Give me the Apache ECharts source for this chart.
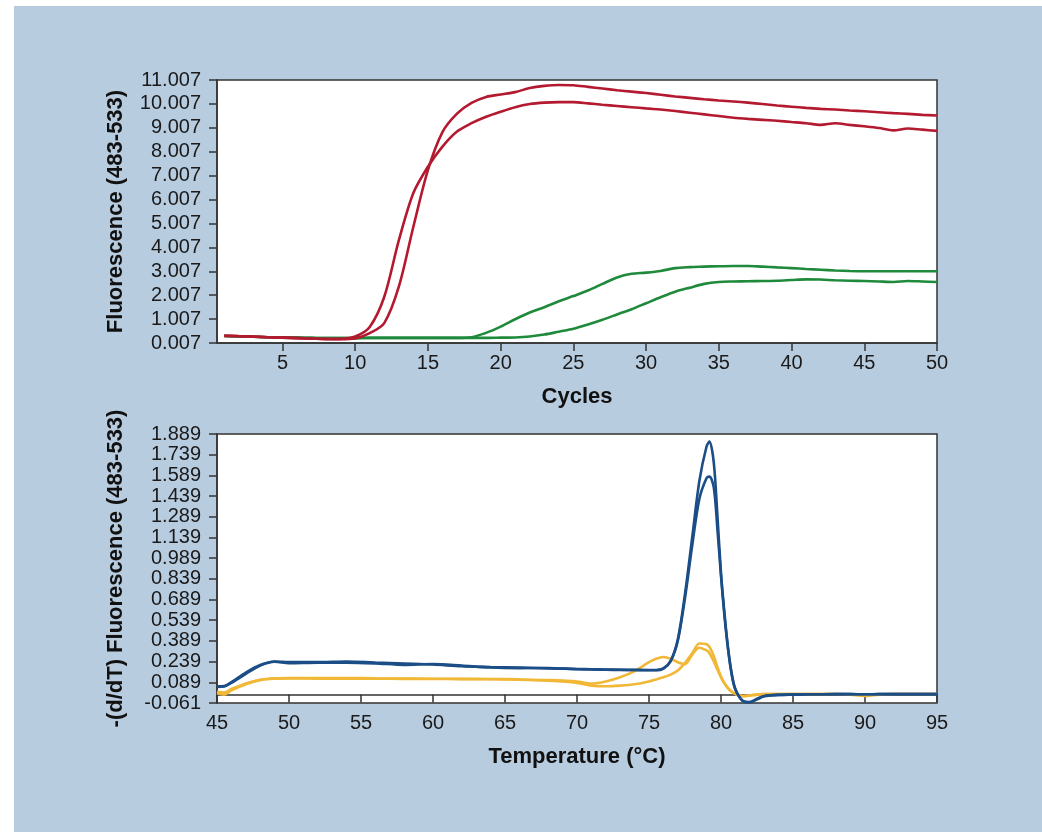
<!DOCTYPE html>
<html>
<head>
<meta charset="utf-8">
<script src="https://cdn.jsdelivr.net/npm/echarts@6/dist/echarts.min.js"></script>
<style>
  html, body { margin: 0; padding: 0; background: #fff; }
  #bg { position: absolute; left: 14px; top: 6px; right: 0; bottom: 0; background: #b8cce0; }
  #main { position: absolute; left: 0; top: 0; width: 1042px; height: 832px; }
</style>
</head>
<body>
<div id="bg"></div>
<div id="main"></div>
<script>
// amplification curves (cycles 1..50)
const cycles = [1,2,3,4,5,6,7,8,9,10,11,12,13,14,15,16,17,18,19,20,21,22,23,24,25,26,27,28,29,30,31,32,33,34,35,36,37,38,39,40,41,42,43,44,45,46,47,48,49,50];
const redEarly = [0.32,0.30,0.28,0.25,0.23,0.21,0.19,0.17,0.18,0.28,0.68,1.94,4.3,6.28,7.38,8.22,8.85,9.2,9.47,9.68,9.87,10.0,10.06,10.08,10.08,10.03,9.97,9.92,9.87,9.82,9.77,9.71,9.64,9.57,9.5,9.43,9.38,9.34,9.3,9.25,9.2,9.13,9.2,9.13,9.07,9.0,8.9,8.98,8.93,8.88];
const redLate = [0.30,0.29,0.27,0.25,0.23,0.21,0.19,0.18,0.17,0.2,0.42,0.84,2.36,4.87,7.24,8.83,9.6,10.05,10.3,10.4,10.5,10.67,10.76,10.8,10.79,10.72,10.65,10.58,10.52,10.46,10.39,10.32,10.26,10.2,10.15,10.11,10.06,10.0,9.94,9.89,9.84,9.8,9.77,9.73,9.7,9.66,9.62,9.59,9.55,9.52];
const greenEarly = [0.3,0.28,0.27,0.25,0.24,0.23,0.22,0.21,0.21,0.21,0.22,0.22,0.22,0.22,0.22,0.22,0.22,0.25,0.43,0.69,1.0,1.28,1.5,1.75,1.97,2.2,2.48,2.75,2.9,2.95,3.02,3.14,3.18,3.2,3.22,3.23,3.23,3.2,3.17,3.14,3.1,3.07,3.04,3.02,3.01,3.01,3.01,3.01,3.01,3.01];
const greenLate = [0.3,0.28,0.27,0.25,0.24,0.23,0.22,0.21,0.21,0.21,0.22,0.22,0.22,0.22,0.22,0.22,0.22,0.22,0.22,0.23,0.24,0.28,0.36,0.48,0.6,0.78,0.98,1.2,1.42,1.67,1.92,2.15,2.32,2.48,2.56,2.58,2.59,2.6,2.61,2.64,2.67,2.66,2.63,2.61,2.6,2.58,2.56,2.6,2.58,2.56];

// melt curves
const temps = [45,45.5,46,47,48,49,50,52,54,56,58,60,62,64,66,68,70,71,72,73,74,75,75.5,76,76.5,77,77.5,78,78.5,79,79.2,79.5,79.75,80,80.25,80.5,80.75,81,81.5,82,82.5,83,84,86,88,89,90,91,92,95];
const blueHigh = [0.06,0.062,0.09,0.16,0.215,0.24,0.235,0.235,0.24,0.232,0.225,0.218,0.205,0.2,0.196,0.19,0.186,0.184,0.182,0.18,0.179,0.178,0.178,0.19,0.245,0.4,0.73,1.14,1.55,1.8,1.834,1.68,1.3,0.88,0.58,0.33,0.15,0.04,-0.045,-0.056,-0.035,-0.012,-0.002,0.002,0.003,0.003,0.002,0.003,0.003,0.003];
const blueLow = [0.055,0.058,0.085,0.15,0.21,0.238,0.228,0.232,0.232,0.226,0.215,0.222,0.21,0.196,0.192,0.193,0.184,0.182,0.18,0.179,0.178,0.176,0.176,0.188,0.24,0.39,0.7,1.08,1.42,1.57,1.58,1.5,1.2,0.86,0.56,0.32,0.14,0.035,-0.045,-0.054,-0.03,-0.01,-0.002,0.002,0.003,0.003,0.002,0.003,0.003,0.003];
const yellowBump = [0.02,0.015,0.04,0.08,0.107,0.118,0.12,0.12,0.12,0.118,0.116,0.115,0.114,0.113,0.11,0.105,0.095,0.08,0.095,0.125,0.17,0.235,0.26,0.272,0.26,0.235,0.22,0.29,0.34,0.32,0.3,0.24,0.18,0.125,0.08,0.045,0.02,0.005,-0.012,-0.008,0.0,0.003,0.004,0.004,0.004,0.0,-0.01,0.0,0.004,0.004];
const yellowPlain = [0.01,0.0,0.03,0.075,0.105,0.115,0.117,0.116,0.116,0.115,0.114,0.113,0.112,0.111,0.108,0.1,0.085,0.065,0.06,0.065,0.075,0.095,0.11,0.125,0.145,0.175,0.23,0.3,0.37,0.365,0.345,0.28,0.2,0.13,0.08,0.045,0.02,0.005,-0.01,-0.006,0.0,0.003,0.004,0.004,0.004,0.002,-0.006,0.002,0.004,0.004];

const yTicks1 = [0.007,1.007,2.007,3.007,4.007,5.007,6.007,7.007,8.007,9.007,10.007,11.007];
const yTicks2 = [-0.061,0.089,0.239,0.389,0.539,0.689,0.839,0.989,1.139,1.289,1.439,1.589,1.739,1.889];
const xTicks1 = [5,10,15,20,25,30,35,40,45,50];

const myChart = echarts.init(document.getElementById('main'));

const labelStyle = { color: '#1a1a1a', fontSize: 20, fontFamily: 'Liberation Sans, Arial, sans-serif' };
const nameStyle = { color: '#111', fontSize: 22, fontWeight: 'bold', fontFamily: 'Liberation Sans, Arial, sans-serif' };
const lineAx = { show: true, lineStyle: { color: '#333', width: 1.5 } };
const tickAx = { show: true, length: 8, lineStyle: { color: '#333', width: 1.5 } };

function pairs(xs, ys) {
  return xs.map(function (x, i) { return [x, ys[i]]; });
}

function line(name, xi, yi, xs, ys, color, z) {
  return {
    name: name,
    type: 'line',
    xAxisIndex: xi,
    yAxisIndex: yi,
    data: pairs(xs, ys),
    showSymbol: false,
    smooth: 0.3,
    z: z,
    lineStyle: { color: color, width: 2.6 },
    itemStyle: { color: color }
  };
}

const options = {
  animation: false,
  backgroundColor: 'transparent',
  grid: [
    { left: 217, top: 80, width: 720, height: 263, show: true, backgroundColor: '#fff', borderColor: '#333', borderWidth: 1.5 },
    { left: 217, top: 434, width: 720, height: 269, show: true, backgroundColor: '#fff', borderColor: '#333', borderWidth: 1.5 }
  ],
  xAxis: [
    {
      type: 'value', gridIndex: 0, min: 0.5, max: 50,
      name: 'Cycles', nameLocation: 'middle', nameGap: 43, nameTextStyle: nameStyle,
      axisLine: lineAx, axisTick: Object.assign({ customValues: xTicks1 }, tickAx),
      axisLabel: Object.assign({ customValues: xTicks1, margin: 10 }, labelStyle),
      splitLine: { show: false }
    },
    {
      type: 'value', gridIndex: 1, min: 45, max: 95, interval: 5,
      name: 'Temperature (°C)', nameLocation: 'middle', nameGap: 43, nameTextStyle: nameStyle,
      axisLine: lineAx, axisTick: tickAx,
      axisLabel: Object.assign({ margin: 10 }, labelStyle),
      splitLine: { show: false }
    }
  ],
  yAxis: [
    {
      type: 'value', gridIndex: 0, min: 0.007, max: 11.007,
      name: 'Fluorescence (483-533)', nameLocation: 'middle', nameGap: 90, nameTextStyle: nameStyle,
      axisLine: lineAx, axisTick: Object.assign({ customValues: yTicks1 }, tickAx),
      axisLabel: Object.assign({ customValues: yTicks1, margin: 16, formatter: function (v) { return v.toFixed(3); } }, labelStyle),
      splitLine: { show: false }
    },
    {
      type: 'value', gridIndex: 1, min: -0.061, max: 1.889,
      name: '-(d/dT) Fluorescence (483-533)', nameLocation: 'middle', nameGap: 90, nameTextStyle: nameStyle,
      axisLine: lineAx, axisTick: Object.assign({ customValues: yTicks2 }, tickAx),
      axisLabel: Object.assign({ customValues: yTicks2, margin: 16, formatter: function (v) { return v.toFixed(3); } }, labelStyle),
      splitLine: { show: false }
    }
  ],
  series: [
    line('green early', 0, 0, cycles, greenEarly, '#1f8a3c', 2),
    line('green late', 0, 0, cycles, greenLate, '#1f8a3c', 2),
    line('red early', 0, 0, cycles, redEarly, '#b3192f', 3),
    line('red late', 0, 0, cycles, redLate, '#b3192f', 3),
    line('yellow bump', 1, 1, temps, yellowBump, '#f0b836', 2),
    line('yellow plain', 1, 1, temps, yellowPlain, '#f0b836', 2),
    line('blue high', 1, 1, temps, blueHigh, '#1b4d86', 3),
    line('blue low', 1, 1, temps, blueLow, '#1b4d86', 3)
  ]
};

myChart.setOption(options);
</script>
</body>
</html>
